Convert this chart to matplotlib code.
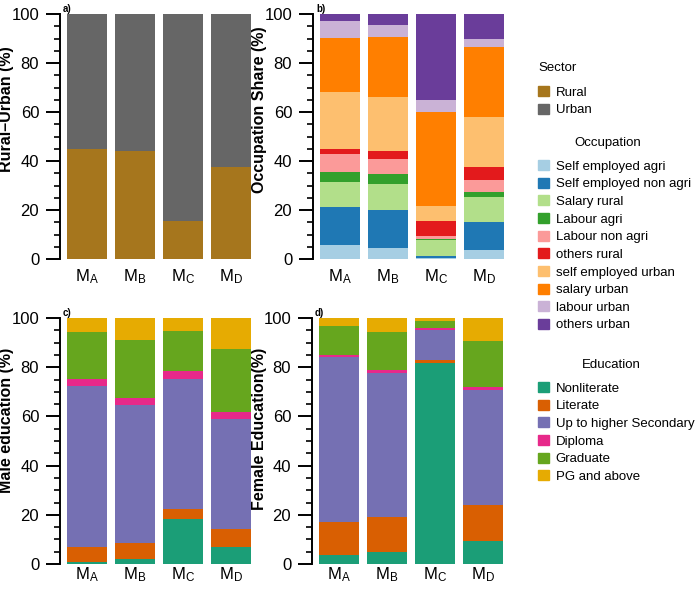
import matplotlib
matplotlib.use("Agg")
import matplotlib.pyplot as plt
import matplotlib.patches as mpatches
import numpy as np

plt.rcParams['font.family'] = ['Liberation Sans', 'DejaVu Sans']

# ----------------------------
# Data (percent shares)
# ----------------------------
models = ["$\\mathregular{M_A}$", "$\\mathregular{M_B}$", "$\\mathregular{M_C}$", "$\\mathregular{M_D}$"]

sector_labels = ["Rural", "Urban"]
rural = [45.0, 44.0, 15.5, 37.5]
urban = [55.0, 56.0, 84.5, 62.5]

occ_labels = ["Self employed agri", "Self employed non agri", "Salary rural", "Labour agri",
              "Labour non agri", "others rural", "self employed urban", "salary urban",
              "labour urban", "others urban"]
occ_MA = [5.8, 15.3, 10.4, 4.0, 7.4, 2.1, 23.0, 22.2, 6.8, 3.0]
occ_MB = [4.6, 15.2, 10.9, 4.1, 6.1, 3.0, 22.1, 24.5, 5.0, 4.5]
occ_MC = [0.3, 1.1, 6.2, 0.4, 1.4, 6.0, 6.1, 38.7, 4.8, 35.0]
occ_MD = [3.8, 11.4, 10.1, 2.0, 5.0, 5.2, 20.4, 28.5, 3.4, 10.2]

edu_labels = ["Nonliterate", "Literate", "Up to higher Secondary", "Diploma", "Graduate", "PG and above"]
male_MA = [0.7, 6.2, 65.6, 2.7, 19.1, 5.7]
male_MB = [2.2, 6.2, 56.2, 2.8, 23.8, 8.8]
male_MC = [18.3, 4.1, 52.8, 3.1, 16.3, 5.4]
male_MD = [7.1, 7.3, 44.5, 3.0, 25.3, 12.8]
female_MA = [3.5, 13.5, 67.1, 1.0, 11.5, 3.4]
female_MB = [5.0, 14.0, 58.6, 1.1, 15.7, 5.6]
female_MC = [81.7, 1.1, 12.5, 0.8, 2.8, 1.1]
female_MD = [9.2, 14.7, 46.9, 1.1, 18.6, 9.5]

sector_colors = ["#A6761D", "#666666"]
occ_colors = ["#a6cee3", "#1f78b4", "#b2df8a", "#33a02c", "#fb9a99",
              "#e31a1c", "#fdbf6f", "#ff7f00", "#cab2d6", "#6a3d9a"]
edu_colors = ["#1b9e77", "#d95f02", "#7570b3", "#e7298a", "#66a61e", "#e6ab02"]

# ----------------------------
# Figure
# ----------------------------
fig = plt.figure(figsize=(7.0, 5.9), dpi=100)
W, H = 700.0, 590.0


def make_ax(left_px, bottom_px, top_px, width_px=198):
    return fig.add_axes([left_px / W, 1 - bottom_px / H, width_px / W, (bottom_px - top_px) / H])


def stacked(ax, rows, colors, ylabel, tag, label_xy, xpad):
    data = np.array(rows).T  # categories x models
    x = np.arange(len(models))
    bottom = np.zeros(len(models))
    for vals, c in zip(data, colors):
        ax.bar(x, vals, bottom=bottom, width=0.83, color=c, linewidth=0)
        bottom += vals
    ax.set_xlim(-0.56, 3.56)
    ax.set_ylim(0, 100)
    ax.set_xticks(x)
    ax.set_xticklabels(models)
    ax.set_yticks([0, 20, 40, 60, 80, 100])
    ax.set_yticks(np.arange(0, 101, 5), minor=True)
    for s in ["top", "right", "bottom"]:
        ax.spines[s].set_visible(False)
    ax.spines["left"].set_linewidth(1.4)
    ax.tick_params(axis="y", which="major", length=10, width=1.4, labelsize=12, pad=5)
    ax.tick_params(axis="y", which="minor", length=4, width=1.2)
    ax.tick_params(axis="x", length=0, labelsize=12, pad=xpad)
    ax.set_ylabel(ylabel, fontsize=11.5, fontweight="bold")
    ax.yaxis.set_label_coords(*label_xy)
    ax.text(0.015, 1.0, tag, transform=ax.transAxes, fontsize=7, fontweight="bold",
            ha="left", va="bottom")


ax_a = make_ax(60, 259, 14)
stacked(ax_a, [[r, u] for r, u in zip(rural, urban)], sector_colors,
        "Rural\u2013Urban (%)", "a)", (-0.232, 0.61), 6)

ax_b = make_ax(313, 259, 14)
stacked(ax_b, [occ_MA, occ_MB, occ_MC, occ_MD], occ_colors,
        "Occupation Share (%)", "b)", (-0.23, 0.61), 6)

ax_c = make_ax(60, 564, 318)
stacked(ax_c, [male_MA, male_MB, male_MC, male_MD], edu_colors,
        "Male education (%)", "c)", (-0.23, 0.585), 1)

ax_d = make_ax(312, 564, 318)
stacked(ax_d, [female_MA, female_MB, female_MC, female_MD], edu_colors,
        "Female Education(%)", "d)", (-0.225, 0.55), 1)

# ----------------------------
# Legends (titles drawn as separate text)
# ----------------------------
def add_legend(labels, colors, title, title_x, title_y, first_y):
    fig.text(title_x / W, 1 - title_y / H, title, fontsize=9.5, ha="center", va="center")
    handles = [mpatches.Patch(color=c, label=l) for l, c in zip(labels, colors)]
    fig.legend(handles=handles, loc="upper left",
               bbox_to_anchor=(538 / W, 1 - (first_y - 5) / H), frameon=False,
               borderpad=0, borderaxespad=0,
               fontsize=9.5, handlelength=0.8, handleheight=0.8,
               handletextpad=0.55, labelspacing=0.38)


add_legend(sector_labels, sector_colors, "Sector", 558, 68, 91)
add_legend(occ_labels, occ_colors, "Occupation", 608, 143, 165)
add_legend(edu_labels, edu_colors, "Education", 611, 365, 387)

fig.savefig("out.png", dpi=100)
